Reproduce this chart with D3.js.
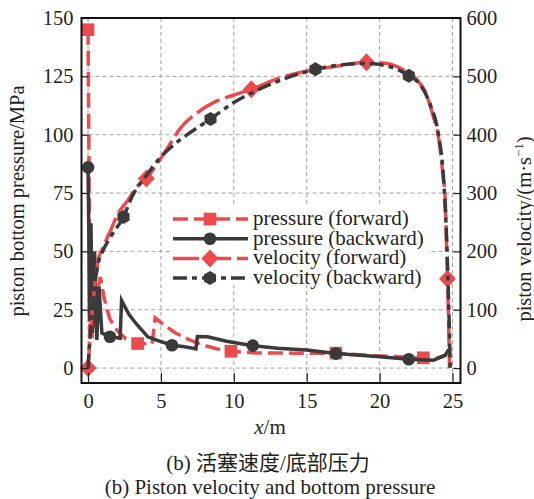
<!DOCTYPE html>
<html>
<head>
<meta charset="utf-8">
<script src="https://cdn.jsdelivr.net/npm/d3@7"></script>
<style>
  body { margin: 0; background: #fff; }
  text { font-family: "Liberation Serif", "Times New Roman", "Noto Sans CJK SC", serif; fill: #231f20; }
</style>
</head>
<body>
<div id="chart"></div>
<script>
// x in m, pressure in MPa, velocity in m/s
const pressureForward = [
  [0, 145], [0.05, 100], [0.1, 50], [0.12, 15], [0.3, 14], [0.55, 30], [0.85, 39], [1.1, 30],
  [1.5, 21], [2.0, 16], [2.6, 12.5], [3.4, 10.5], [4.4, 10.4], [4.6, 21.5], [5.2, 18.5],
  [6.0, 15], [7.0, 12], [7.8, 10], [8.8, 8.3], [9.8, 7.2], [11.5, 6.5], [14, 6.4], [17.0, 6.4],
  [19.5, 5.3], [21.5, 4.8], [23.0, 4.4], [24.0, 4.3], [24.5, 5.5], [24.8, 8]
];
const pressureBackward = [
  [0, 86], [0.05, 60], [0.1, 20], [0.2, 62], [0.3, 15], [0.45, 50], [0.6, 12], [0.75, 35],
  [0.95, 15], [1.5, 13.4], [2.2, 12.8], [2.3, 29], [2.8, 23], [3.3, 19], [4.1, 13.4], [4.7, 12],
  [5.76, 9.8], [6.5, 9.2], [7.2, 8.5], [7.4, 8.2], [7.5, 13.5], [8.2, 13.4], [9.5, 11.5],
  [10.4, 10.5], [11.3, 9.6], [13, 8.5], [15, 7.7], [17, 6.2], [19.6, 5.1], [22.0, 3.8],
  [23.7, 3.4], [24.5, 5.5], [24.75, 8]
];
const velocityForward = [
  [0, 0], [0.1, 40], [0.3, 100], [0.5, 150], [0.7, 185], [1.0, 205], [1.6, 239], [2.06, 265],
  [2.66, 285], [3.4, 312], [4.0, 325], [5.0, 360], [5.65, 385], [6.3, 410], [7.5, 438],
  [8.6, 455], [10, 468], [11.2, 478], [13, 496], [15.6, 512], [17.5, 519], [19.1, 524],
  [20.5, 522], [21.5, 513], [22.5, 496], [23.2, 470], [23.7, 430], [24.0, 402], [24.35, 330],
  [24.5, 290], [24.6, 207], [24.66, 153], [24.75, 60], [24.8, 0]
];
const velocityBackward = [
  [0, 0], [0.1, 40], [0.3, 100], [0.5, 150], [0.7, 180], [1.0, 200], [1.6, 227], [2.43, 259],
  [3.0, 293], [4.0, 330], [4.96, 361], [6.0, 385], [6.8, 400], [8.4, 427], [10, 455],
  [11.5, 475], [13.5, 496], [15.6, 512], [17.5, 520], [19.1, 522], [20.5, 518], [22.0, 501],
  [22.8, 485], [23.5, 450], [24.0, 405], [24.4, 320], [24.6, 220], [24.75, 100], [24.85, 0]
];
// marker positions (x values) on each series
const pfMarkers = [0, 3.4, 9.8, 17.0, 23.0];
const pbMarkers = [0, 1.5, 5.76, 11.3, 17, 22.0];
const vfMarkers = [0, 4.0, 11.2, 19.1, 24.66];
const vbMarkers = [2.43, 8.4, 15.6, 22.0];

const xTicks = [0, 5, 10, 15, 20, 25];
const pTicks = [0, 25, 50, 75, 100, 125, 150];
const vTicks = [0, 100, 200, 300, 400, 500, 600];
const legendLabels = ['pressure (forward)', 'pressure (backward)', 'velocity (forward)', 'velocity (backward)'];

const red = '#ec4a4c';
const dark = '#3a3a3a';

const width = 534, height = 499;
const m = { left: 81.5, right: 460.5, top: 18, bottom: 383 };

const svg = d3.select('#chart')
  .append('svg')
  .attr('width', width)
  .attr('height', height);

const x = d3.scaleLinear().domain([-0.45, 25.55]).range([m.left, m.right]);
const yP = d3.scaleLinear().domain([-6.4, 150]).range([m.bottom, m.top]);
const yV = d3.scaleLinear().domain([-25.6, 600]).range([m.bottom, m.top]);

// grid
const grid = svg.append('g')
  .attr('stroke', '#a0a0a0')
  .attr('stroke-width', 1)
  .attr('stroke-dasharray', '4,3');
grid.selectAll('.gx').data(xTicks).enter().append('line')
  .attr('x1', d => x(d)).attr('x2', d => x(d))
  .attr('y1', m.top).attr('y2', m.bottom);
grid.selectAll('.gy').data(pTicks).enter().append('line')
  .attr('x1', m.left).attr('x2', m.right)
  .attr('y1', d => yP(d)).attr('y2', d => yP(d));

// series
const series = [
  { data: pressureForward, y: yP, color: red, dash: '15,6', marks: pfMarkers, shape: 'square', curve: d3.curveLinear },
  { data: pressureBackward, y: yP, color: dark, dash: null, marks: pbMarkers, shape: 'circle', curve: d3.curveLinear },
  { data: velocityForward, y: yV, color: red, dash: '26,6', marks: vfMarkers, shape: 'diamond', curve: d3.curveMonotoneX },
  { data: velocityBackward, y: yV, color: dark, dash: '14,5,5,5', marks: vbMarkers, shape: 'hexagon', curve: d3.curveMonotoneX }
];

function markerPath(shape) {
  if (shape === 'square') return d3.symbol(d3.symbolSquare, 160)();
  if (shape === 'circle') return d3.symbol(d3.symbolCircle, 125)();
  if (shape === 'diamond') return 'M0,-9L8.5,0L0,9L-8.5,0Z';
  const r = 7;
  return d3.range(6).map((i, k) => {
    const a = Math.PI / 3 * i;
    return (k ? 'L' : 'M') + (r * Math.sin(a)).toFixed(2) + ',' + (-r * Math.cos(a)).toFixed(2);
  }).join('') + 'Z';
}

series.forEach(s => {
  const line = d3.line().x(d => x(d[0])).y(d => s.y(d[1])).curve(s.curve);
  svg.append('path')
    .datum(s.data)
    .attr('d', line)
    .attr('fill', 'none')
    .attr('stroke', s.color)
    .attr('stroke-width', 3.5)
    .attr('stroke-dasharray', s.dash);
  const pts = s.marks.map(mk => s.data.find(d => d[0] === mk));
  svg.selectAll(null).data(pts).enter().append('path')
    .attr('d', markerPath(s.shape))
    .attr('transform', d => `translate(${x(d[0])},${s.y(d[1])})`)
    .attr('fill', s.color);
});

// axes
const axL = svg.append('g')
  .attr('transform', `translate(${m.left},0)`)
  .call(d3.axisLeft(yP).tickValues(pTicks).tickSize(-7).tickPadding(8));
const axB = svg.append('g')
  .attr('transform', `translate(0,${m.bottom})`)
  .call(d3.axisBottom(x).tickValues(xTicks).tickSize(-10).tickPadding(10));
const axR = svg.append('g')
  .attr('transform', `translate(${m.right},0)`)
  .call(d3.axisRight(yV).tickValues(vTicks).tickSize(-7).tickPadding(6));
[axL, axB, axR].forEach(a => {
  a.select('.domain').remove();
  a.selectAll('line').attr('stroke', '#222').attr('stroke-width', 1.2);
  a.selectAll('text').attr('font-size', 20.5).attr('fill', '#231f20')
    .attr('font-family', '"Liberation Serif", serif');
});

svg.append('rect')
  .attr('x', m.left).attr('y', m.top)
  .attr('width', m.right - m.left).attr('height', m.bottom - m.top)
  .attr('fill', 'none').attr('stroke', '#111').attr('stroke-width', 2);

// legend
const legend = svg.append('g');
legend.append('rect')
  .attr('x', 170).attr('y', 207).attr('width', 258).attr('height', 78)
  .attr('fill', '#fff');
series.forEach((s, i) => {
  const ly = 219 + i * 19.7;
  legend.append('line')
    .attr('x1', 173).attr('x2', 248).attr('y1', ly).attr('y2', ly)
    .attr('stroke', s.color).attr('stroke-width', 3.5)
    .attr('stroke-dasharray', s.dash);
  legend.append('path')
    .attr('d', markerPath(s.shape))
    .attr('transform', `translate(210,${ly})`)
    .attr('fill', s.color);
  legend.append('text')
    .attr('x', 253).attr('y', ly + 6)
    .attr('font-size', 21)
    .text(legendLabels[i]);
});

// titles
svg.append('text')
  .attr('transform', 'translate(24,201) rotate(-90)')
  .attr('text-anchor', 'middle')
  .attr('font-size', 20.5)
  .text('piston bottom pressure/MPa');

const rt = svg.append('text')
  .attr('transform', 'translate(531,229) rotate(-90)')
  .attr('text-anchor', 'middle')
  .attr('font-size', 20.5);
rt.append('tspan').text('piston velocity/(m·s');
rt.append('tspan').attr('font-size', 13).attr('dy', -8).text('−1');
rt.append('tspan').attr('dy', 8).text(')');

const xl = svg.append('text')
  .attr('x', 270).attr('y', 434)
  .attr('text-anchor', 'middle')
  .attr('font-size', 21);
xl.append('tspan').attr('font-style', 'italic').text('x');
xl.append('tspan').text('/m');

svg.append('text')
  .attr('x', 268).attr('y', 470)
  .attr('text-anchor', 'middle')
  .attr('font-size', 21)
  .text('(b) 活塞速度/底部压力');

svg.append('text')
  .attr('x', 270).attr('y', 494)
  .attr('text-anchor', 'middle')
  .attr('font-size', 21)
  .text('(b) Piston velocity and bottom pressure');
</script>
</body>
</html>
